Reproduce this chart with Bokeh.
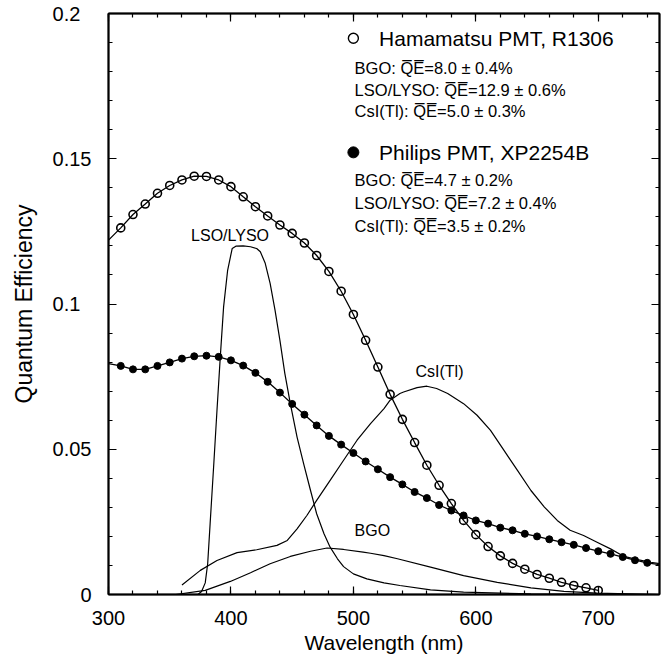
from bokeh.plotting import figure
from bokeh.models import (LinearAxis, FixedTicker, CustomJSTickFormatter, Range1d)
from bokeh.core.properties import value
from bokeh.embed import file_html
from bokeh.resources import INLINE

FONT = "Liberation Sans"

# Hamamatsu PMT R1306 quantum efficiency (open circles)
ham_nm = [300, 310, 320, 330, 340, 350, 360, 370, 380, 390, 400, 410, 420, 430, 440,
          450, 460, 470, 480, 490, 500, 510, 520, 530, 540, 550, 560, 570, 580, 590,
          600, 610, 620, 630, 640, 650, 660, 670, 680, 690, 700]
ham_qe = [0.1220, 0.1262, 0.1308, 0.1344, 0.1381, 0.1408, 0.1427, 0.1440, 0.1439, 0.1427,
          0.1404, 0.1369, 0.1335, 0.1303, 0.1272, 0.1243, 0.1210, 0.1167, 0.1112, 0.1044,
          0.0964, 0.0875, 0.0783, 0.0689, 0.0603, 0.0523, 0.0445, 0.0376, 0.0313, 0.0255,
          0.0206, 0.0165, 0.0133, 0.0107, 0.0087, 0.0069, 0.0056, 0.0042, 0.0031, 0.0023,
          0.0014]

# Philips PMT XP2254B quantum efficiency (filled circles)
phi_nm = [300, 310, 320, 330, 340, 350, 360, 370, 380, 390, 400, 410, 420, 430, 440,
          450, 460, 470, 480, 490, 500, 510, 520, 530, 540, 550, 560, 570, 580, 590,
          600, 610, 620, 630, 640, 650, 660, 670, 680, 690, 700, 710, 720, 730, 740, 750]
phi_qe = [0.0795, 0.0787, 0.0775, 0.0775, 0.0787, 0.0799, 0.0812, 0.0820, 0.0822, 0.0818,
          0.0806, 0.0788, 0.0763, 0.0732, 0.0695, 0.0656, 0.0619, 0.0582, 0.0546, 0.0516,
          0.0487, 0.0458, 0.0431, 0.0404, 0.0379, 0.0353, 0.0332, 0.0308, 0.0289, 0.0272,
          0.0255, 0.0244, 0.0230, 0.0221, 0.0209, 0.0200, 0.0190, 0.0180, 0.0171, 0.0160,
          0.0149, 0.0140, 0.0129, 0.0118, 0.0109, 0.0103]

# Emission spectra (arbitrary scale)
lso_nm = [373, 376, 379, 381, 383, 386, 388.6, 391.3, 394, 397.3, 401, 404, 410, 416, 421,
          424, 428, 432, 436, 440, 444, 448.5, 454, 459.4, 465, 470, 476, 481, 487, 492,
          500, 511, 525, 538, 563, 590, 645, 700, 750]
lso_em = [0.0, 0.001, 0.004, 0.0106, 0.0244, 0.045, 0.0634, 0.0818, 0.099, 0.1116, 0.1191,
          0.1199, 0.1200, 0.1197, 0.1191, 0.118, 0.114, 0.1071, 0.0979, 0.0875, 0.0761,
          0.0657, 0.0542, 0.045, 0.0358, 0.0278, 0.0209, 0.0163, 0.0123, 0.0096, 0.0071,
          0.0054, 0.0040, 0.0031, 0.0016, 0.0008, 0.0002, 0.0001, 0.0]

bgo_nm = [355, 379, 399.5, 416, 432, 448.5, 465, 478.5, 492, 508, 514, 525, 536, 563, 590,
          617.5, 645, 672, 699, 750]
bgo_em = [0.0, 0.0014, 0.0045, 0.0075, 0.0106, 0.0131, 0.0149, 0.0160, 0.0155, 0.0146,
          0.0142, 0.0134, 0.0123, 0.0094, 0.0065, 0.0042, 0.0023, 0.0011, 0.0005, 0.0]

csi_nm = [360, 375, 388.6, 405, 421, 437.6, 446, 454, 462, 470, 481, 492, 503, 514, 525,
          530, 538, 541, 552, 560, 568, 577, 590, 601, 612, 623, 634, 645, 656, 666.5, 677,
          688, 699, 710, 721, 732, 743, 750]
csi_em = [0.0033, 0.0083, 0.0117, 0.0144, 0.0154, 0.0169, 0.0186, 0.0226, 0.0272, 0.0324,
          0.0393, 0.0462, 0.0531, 0.0588, 0.0640, 0.0669, 0.0692, 0.0697, 0.0712, 0.0717,
          0.0709, 0.0692, 0.0657, 0.0617, 0.0565, 0.0496, 0.0427, 0.0358, 0.0301, 0.0255,
          0.0221, 0.0203, 0.0180, 0.0157, 0.0131, 0.0120, 0.0111, 0.0106]

x_ticks = [300, 400, 500, 600, 700]
x_minor = list(range(300, 760, 20))
y_ticks = [0, 0.05, 0.1, 0.15, 0.2]
y_minor = [i / 100 for i in range(0, 21)]
y_tick_labels = ["0", "0.05", "0.1\u2007", "0.15", "0.2\u2007"]

curve_labels = ["LSO/LYSO", "CsI(Tl)", "BGO"]
curve_label_x = [399.3, 570.3, 515.5]
curve_label_y = [0.1235, 0.0766, 0.0220]

QE = "Q\u0305E\u0305"
legend_titles = ["Hamamatsu PMT, R1306", "Philips PMT, XP2254B"]
legend_title_y = [0.1915, 0.1522]
ham_rows = ["BGO: " + QE + "=8.0 \u00b1 0.4%",
            "LSO/LYSO: " + QE + "=12.9 \u00b1 0.6%",
            "CsI(Tl): " + QE + "=5.0 \u00b1 0.3%"]
phi_rows = ["BGO: " + QE + "=4.7 \u00b1 0.2%",
            "LSO/LYSO: " + QE + "=7.2 \u00b1 0.4%",
            "CsI(Tl): " + QE + "=3.5 \u00b1 0.2%"]
ham_rows_y = [0.1813, 0.1738, 0.1664]
phi_rows_y = [0.1427, 0.1348, 0.1270]

p = figure(width=662, height=662, output_backend="svg", toolbar_location=None,
           x_range=Range1d(300, 750), y_range=Range1d(0, 0.2),
           min_border_left=108, min_border_right=3, min_border_top=13, min_border_bottom=68,
           x_axis_label="Wavelength (nm)", y_axis_label="Quantum Efficiency")
p.grid.visible = False
p.outline_line_color = "black"
p.outline_line_width = 1.5
p.background_fill_color = "white"
p.border_fill_color = "white"

p.xaxis.ticker = FixedTicker(ticks=x_ticks, minor_ticks=x_minor)
p.yaxis.ticker = FixedTicker(ticks=y_ticks, minor_ticks=y_minor)
p.yaxis.major_label_overrides = {t: s for t, s in zip(y_ticks, y_tick_labels)}

for ax in (p.xaxis[0], p.yaxis[0]):
    ax.major_tick_in = 8
    ax.major_tick_out = 0
    ax.minor_tick_in = 4
    ax.minor_tick_out = 0
    ax.axis_line_width = 2
    ax.major_tick_line_width = 1.2
    ax.minor_tick_line_width = 1.2
    ax.major_label_text_font = FONT
    ax.major_label_text_font_size = "20px"
    ax.major_label_text_color = "black"
    ax.axis_label_text_font = FONT
    ax.axis_label_text_font_style = "normal"
    ax.axis_label_text_color = "black"

p.xaxis.major_label_standoff = 16
p.xaxis.axis_label_text_font_size = "21px"
p.xaxis.axis_label_standoff = 3
p.yaxis.major_label_standoff = 17
p.yaxis.axis_label_text_font_size = "23px"
p.yaxis.axis_label_standoff = 13

blank = CustomJSTickFormatter(code="return '';")
top = LinearAxis(ticker=FixedTicker(ticks=x_ticks, minor_ticks=x_minor), formatter=blank)
right = LinearAxis(ticker=FixedTicker(ticks=y_ticks, minor_ticks=y_minor),
                   formatter=CustomJSTickFormatter(code="return '';"))
for ax in (top, right):
    ax.major_tick_in = 8
    ax.major_tick_out = 0
    ax.minor_tick_in = 4
    ax.minor_tick_out = 0
    ax.axis_line_width = 2
    ax.major_tick_line_width = 1.2
    ax.minor_tick_line_width = 1.2
    ax.major_label_standoff = 0
    ax.major_label_text_font_size = "1px"
p.add_layout(top, "above")
p.add_layout(right, "right")

# emission spectra
p.line(lso_nm, lso_em, line_color="black", line_width=1.2)
p.line(bgo_nm, bgo_em, line_color="black", line_width=1.2)
p.line(csi_nm, csi_em, line_color="black", line_width=1.2)

# QE curves
p.line(ham_nm, ham_qe, line_color="black", line_width=1.3)
p.scatter(ham_nm[1:], ham_qe[1:], marker="circle", size=8, fill_color=None,
          line_color="black", line_width=1.6)
p.line(phi_nm, phi_qe, line_color="black", line_width=1.3)
p.scatter(phi_nm[1:-1], phi_qe[1:-1], marker="circle", size=7, fill_color="black",
          line_color="black")

# curve labels
p.text(curve_label_x, curve_label_y, text=curve_labels, text_font=value(FONT),
       text_font_size="16px", text_align="center", text_baseline="middle", text_color="black")

# legend
p.scatter([500], [legend_title_y[0]], marker="circle", size=10, fill_color="white",
          line_color="black", line_width=1.4)
p.scatter([500], [legend_title_y[1]], marker="circle", size=11, fill_color="black",
          line_color="black")
p.text([521, 521], legend_title_y, text=legend_titles, text_font=value(FONT),
       text_font_size="21px", text_align="left", text_baseline="middle", text_color="black")
p.text([501] * 3, ham_rows_y, text=ham_rows, text_font=value(FONT),
       text_font_size="16.5px", text_align="left", text_baseline="middle", text_color="black")
p.text([501] * 3, phi_rows_y, text=phi_rows, text_font=value(FONT),
       text_font_size="16.5px", text_align="left", text_baseline="middle", text_color="black")

open("out.html", "w").write(file_html(p, INLINE))
